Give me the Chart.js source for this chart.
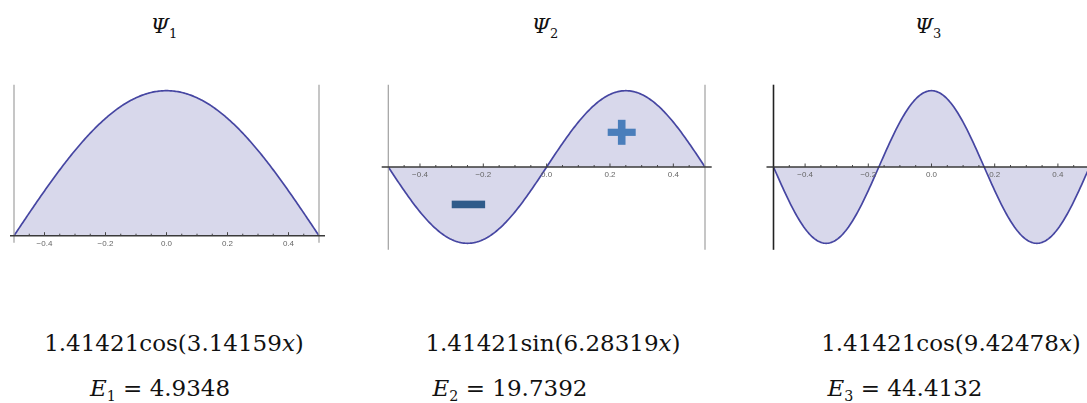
<!DOCTYPE html>
<html>
<head>
<meta charset="utf-8">
<script src="https://cdn.jsdelivr.net/npm/chart.js@4.4.1/dist/chart.umd.min.js"></script>
<style>
  html, body { margin: 0; padding: 0; width: 1087px; height: 403px; overflow: hidden; background: #fff; }
  canvas { position: absolute; filter: blur(0.35px); }
  .txt { position: absolute; white-space: nowrap; font-family: "DejaVu Serif", "Liberation Serif", serif; color: #111; line-height: 1; }
  .title { font-size: 21px; top: 16px; transform: translateX(-50%); }
  .formula { font-size: 23px; top: 332px; transform: translateX(-50%); }
  .energy { font-size: 23px; top: 377px; transform: translateX(-50%); }
  sub { font-size: 62%; vertical-align: -0.35em; font-style: normal; line-height: 0; }
</style>
</head>
<body>
<canvas id="c1" width="340" height="190" style="left:0px;top:70px"></canvas>
<canvas id="c2" width="345" height="190" style="left:375px;top:70px"></canvas>
<canvas id="c3" width="345" height="190" style="left:760px;top:70px"></canvas>

<div class="txt title" style="left:164px"><i>Ψ</i><sub>1</sub></div>
<div class="txt title" style="left:545px"><i>Ψ</i><sub>2</sub></div>
<div class="txt title" style="left:928px"><i>Ψ</i><sub>3</sub></div>

<div class="txt formula" id="f1" style="left:174px"></div>
<div class="txt formula" id="f2" style="left:553px"></div>
<div class="txt formula" id="f3" style="left:951px"></div>

<div class="txt energy" id="e1" style="left:160px"></div>
<div class="txt energy" id="e2" style="left:510px"></div>
<div class="txt energy" id="e3" style="left:905px"></div>

<script>
// Particle-in-a-box eigenstates on [-0.5, 0.5]
const stateIndex   = [1, 2, 3];
const amplitudes   = [1.41421, 1.41421, 1.41421];
const waveNumbers  = [3.14159, 6.28319, 9.42478];
const waveFuncs    = ['cos', 'sin', 'cos'];
const energies     = ['4.9348', '19.7392', '44.4132'];
const xRange       = [-0.5, 0.5];
const tickValues   = [-0.4, -0.2, 0.0, 0.2, 0.4];
const tickLabels   = ['\u22120.4', '\u22120.2', '0.0', '0.2', '0.4'];
const minorStep    = 0.05;
const sampleCount  = 241;

// formula and energy captions
stateIndex.forEach((n, i) => {
  document.getElementById('f' + n).innerHTML =
    amplitudes[i].toFixed(5) + waveFuncs[i] + '(' + waveNumbers[i].toFixed(5) + '<i>x</i>)';
  document.getElementById('e' + n).innerHTML =
    '<i>E</i><sub>' + n + '</sub> = ' + energies[i];
});

function samples(i) {
  const f = waveFuncs[i] === 'cos' ? Math.cos : Math.sin;
  const pts = [];
  for (let k = 0; k < sampleCount; k++) {
    const x = xRange[0] + (xRange[1] - xRange[0]) * k / (sampleCount - 1);
    pts.push({ x: x, y: amplitudes[i] * f(waveNumbers[i] * x) });
  }
  return pts;
}

// axis line, frame lines, ticks, tick labels and sign marks
const axesPlugin = {
  id: 'boxAxes',
  afterDatasetsDraw(chart, args, opts) {
    const ctx = chart.ctx;
    const xs = chart.scales.x, ys = chart.scales.y;
    const y0 = ys.getPixelForValue(0);
    const xl = xs.getPixelForValue(xRange[0]);
    const xr = xs.getPixelForValue(xRange[1]);
    const top = chart.chartArea.top, bottom = chart.chartArea.bottom;
    ctx.save();
    // vertical frame lines at the walls
    ctx.lineWidth = opts.frameWidth;
    ctx.strokeStyle = opts.leftFrameColor;
    ctx.beginPath(); ctx.moveTo(xl, top - 6); ctx.lineTo(xl, Math.max(bottom, y0) + opts.frameBelow); ctx.stroke();
    ctx.strokeStyle = opts.rightFrameColor;
    ctx.lineWidth = 1.2;
    ctx.beginPath(); ctx.moveTo(xr, top - 6); ctx.lineTo(xr, Math.max(bottom, y0) + opts.frameBelow); ctx.stroke();
    // horizontal axis
    ctx.strokeStyle = '#3a3a3a';
    ctx.lineWidth = 1.4;
    ctx.beginPath(); ctx.moveTo(xl - opts.axisExt[0], y0); ctx.lineTo(xr + opts.axisExt[1], y0); ctx.stroke();
    // ticks (pointing up into the plot)
    ctx.lineWidth = 1;
    ctx.strokeStyle = '#444';
    const nMinor = Math.round((xRange[1] - xRange[0]) / minorStep);
    for (let k = 1; k < nMinor; k++) {
      const v = xRange[0] + k * minorStep;
      const major = tickValues.some(t => Math.abs(t - v) < 1e-9);
      const px = xs.getPixelForValue(v);
      ctx.beginPath(); ctx.moveTo(px, y0); ctx.lineTo(px, y0 - (major ? 3.5 : 2)); ctx.stroke();
    }
    // tick labels
    ctx.fillStyle = '#666';
    ctx.font = '8px "Liberation Sans", "DejaVu Sans", sans-serif';
    ctx.textAlign = 'center';
    ctx.textBaseline = 'middle';
    tickValues.forEach((v, j) => {
      ctx.fillText(tickLabels[j], xs.getPixelForValue(v), y0 + 8);
    });
    // sign markers
    (opts.signs || []).forEach(s => {
      const cx = xs.getPixelForValue(s.x), cy = ys.getPixelForValue(s.y);
      ctx.fillStyle = s.color;
      if (s.kind === 'plus') {
        ctx.fillRect(cx - 14, cy - 3.6, 28, 7.2);
        ctx.fillRect(cx - 3.8, cy - 12.5, 7.6, 25);
      } else {
        ctx.fillRect(cx - 16.7, cy - 3.8, 33.4, 7.6);
      }
    });
    ctx.restore();
  }
};

const panels = [
  { id: 'c1', idx: 0, yMin: 0, yMax: 1.41421,
    pad: { left: 14, right: 21, top: 20.7, bottom: 24.3 },
    axes: { leftFrameColor: '#a0a0a0', rightFrameColor: '#a0a0a0', frameWidth: 1.2, frameBelow: 7, axisExt: [4, 6] } },
  { id: 'c2', idx: 1, yMin: -1.41421, yMax: 1.41421,
    pad: { left: 13.3, right: 15, top: 20.7, bottom: 16.7 },
    axes: { leftFrameColor: '#a0a0a0', rightFrameColor: '#a0a0a0', frameWidth: 1.2, frameBelow: 6.5, axisExt: [6.6, 6.7],
            signs: [ { kind: 'plus',  x: 0.237,  y: 0.643,  color: '#4a7ebb' },
                     { kind: 'minus', x: -0.247, y: -0.694, color: '#2f5b8a' } ] } },
  { id: 'c3', idx: 2, yMin: -1.41421, yMax: 1.41421,
    pad: { left: 13.5, right: 15.5, top: 20.7, bottom: 16.7 },
    axes: { leftFrameColor: '#222222', rightFrameColor: '#a0a0a0', frameWidth: 1.6, frameBelow: 6.5, axisExt: [7, 7] } }
];

panels.forEach(p => {
  new Chart(document.getElementById(p.id), {
    type: 'line',
    data: {
      datasets: [{
        data: samples(p.idx),
        borderColor: '#4646a2',
        backgroundColor: 'rgba(61,61,153,0.2)',
        borderWidth: 1.7,
        fill: 'origin',
        pointRadius: 0,
        tension: 0,
        clip: false
      }]
    },
    options: {
      responsive: false,
      animation: false,
      events: [],
      layout: { padding: p.pad },
      plugins: { legend: { display: false }, tooltip: { enabled: false }, boxAxes: p.axes },
      scales: {
        x: { type: 'linear', min: xRange[0], max: xRange[1], display: false },
        y: { type: 'linear', min: p.yMin, max: p.yMax, display: false }
      }
    },
    plugins: [axesPlugin]
  });
});
</script>
</body>
</html>
